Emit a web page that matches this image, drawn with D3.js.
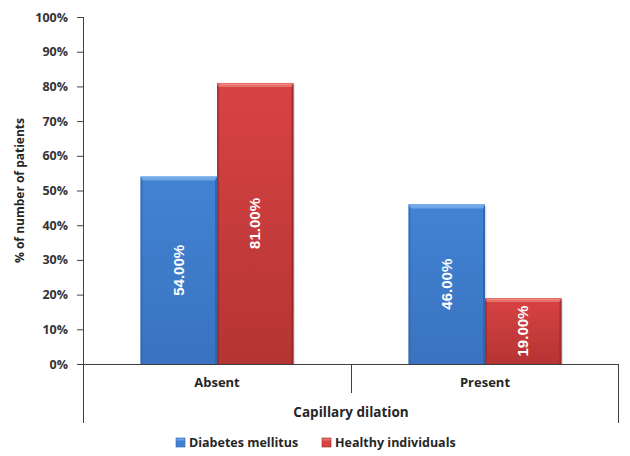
<!DOCTYPE html>
<html>
<head>
<meta charset="utf-8">
<script src="https://cdn.jsdelivr.net/npm/d3@7"></script>
<style>
  html, body { margin: 0; padding: 0; background: #ffffff; }
  svg { display: block; }
</style>
</head>
<body>
<svg id="chart" width="630" height="456"></svg>
<script>
// Share of patients with and without capillary dilation
const categories = ["Absent", "Present"];
const seriesNames = ["Diabetes mellitus", "Healthy individuals"];
const diabetesValues = [54, 46];
const healthyValues = [81, 19];
const yTicks = [0, 10, 20, 30, 40, 50, 60, 70, 80, 90, 100];
const axisTitle = "% of number of patients";
const groupTitle = "Capillary dilation";

const FONT = "'Open Sans', Lato, sans-serif";
const LABEL_FONT = "'Liberation Sans', Arial, sans-serif";

const palette = {
  "Diabetes mellitus": { top: "#6aa3e6", hi: "#8dbbf0", mid: "#4183d3", bottom: "#3a73c0", edge: "#2d5fa6" },
  "Healthy individuals": { top: "#e8706c", hi: "#f29590", mid: "#d84343", bottom: "#b53434", edge: "#932626" }
};

const rows = categories.map((c, i) => ({
  category: c,
  values: [
    { series: seriesNames[0], value: diabetesValues[i] },
    { series: seriesNames[1], value: healthyValues[i] }
  ]
}));

const svg = d3.select("#chart");
const margin = { left: 83, right: 11, top: 17, bottom: 92 };
const W = 630, H = 456;
const plotW = W - margin.left - margin.right;
const plotH = H - margin.top - margin.bottom;

const x0 = d3.scaleBand().domain(categories).range([0, plotW]).paddingInner(0).paddingOuter(0);
const groupWidth = 153;
const x1 = d3.scaleBand().domain(seriesNames).range([0, groupWidth]).padding(0);
const y = d3.scaleLinear().domain([0, 100]).range([plotH, 0]);

// vertical shading for the bar faces
const defs = svg.append("defs");
seriesNames.forEach((s, i) => {
  const p = palette[s];
  const g = defs.append("linearGradient").attr("id", "fill" + i)
    .attr("x1", 0).attr("y1", 0).attr("x2", 0).attr("y2", 1);
  g.append("stop").attr("offset", "0%").attr("stop-color", p.mid);
  g.append("stop").attr("offset", "100%").attr("stop-color", p.bottom);
});

const plot = svg.append("g").attr("transform", `translate(${margin.left},${margin.top})`);

// bars
const groups = plot.selectAll("g.group").data(rows).join("g")
  .attr("class", "group")
  .attr("transform", d => `translate(${x0(d.category) + (x0.bandwidth() - groupWidth) / 2},0)`);

const bars = groups.selectAll("g.bar").data(d => d.values).join("g").attr("class", "bar");

bars.each(function (d) {
  const i = seriesNames.indexOf(d.series);
  const p = palette[d.series];
  const bx = x1(d.series), bw = x1.bandwidth();
  const by = y(d.value), bh = y(0) - y(d.value);
  const bb = by + bh, br = bx + bw;
  const g = d3.select(this);
  const bev = 4, side = 2;
  // soft drop shadow on the right
  g.append("rect").attr("x", br).attr("y", by + 2).attr("width", 1.5).attr("height", bh - 2)
    .attr("fill", "#000").attr("opacity", 0.12);
  g.append("rect").attr("x", bx).attr("y", by).attr("width", bw).attr("height", bh)
    .attr("fill", `url(#fill${i})`);
  // side bevels
  g.append("path")
    .attr("d", `M${bx},${by} L${bx + side},${by + bev} L${bx + side},${bb} L${bx},${bb} Z`)
    .attr("fill", p.edge).attr("opacity", 0.55);
  g.append("path")
    .attr("d", `M${br},${by} L${br - side},${by + bev} L${br - side},${bb} L${br},${bb} Z`)
    .attr("fill", p.edge).attr("opacity", 0.75);
  // top bevel
  g.append("path")
    .attr("d", `M${bx},${by} L${br},${by} L${br - side},${by + bev} L${bx + side},${by + bev} Z`)
    .attr("fill", p.top);
  g.append("line").attr("x1", bx + 3).attr("x2", br - 3).attr("y1", by + 1.5).attr("y2", by + 1.5)
    .attr("stroke", p.hi).attr("stroke-width", 1).attr("opacity", 0.7);
  // value label
  g.append("text")
    .attr("transform", `translate(${bx + bw / 2 + 5},${by + bh / 2}) rotate(-90)`)
    .attr("text-anchor", "middle")
    .style("fill", "#ffffff")
    .style("font-family", LABEL_FONT)
    .style("font-weight", "bold")
    .style("font-size", "15px")
    .text(d.value.toFixed(2) + "%");
});

// y axis
const yAxis = d3.axisLeft(y).tickValues(yTicks).tickSize(6).tickFormat(d => d + "%");
const ya = plot.append("g").call(yAxis);
ya.select(".domain").remove();
ya.selectAll(".tick line").attr("stroke", "#404040");
ya.selectAll(".tick text").attr("x", -15)
  .style("fill", "#333333")
  .style("font-size", "12.5px").style("font-weight", "bold")
  .style("font-family", FONT);

// axis lines
const axisColor = "#404040";
plot.append("line").attr("x1", 0.5).attr("x2", 0.5).attr("y1", 0).attr("y2", plotH + 59)
  .attr("stroke", axisColor);
plot.append("line").attr("x1", 0).attr("x2", plotW).attr("y1", plotH + 0.5).attr("y2", plotH + 0.5)
  .attr("stroke", axisColor);
plot.append("line").attr("x1", plotW - 0.5).attr("x2", plotW - 0.5).attr("y1", plotH).attr("y2", plotH + 59)
  .attr("stroke", axisColor);
plot.append("line").attr("x1", x0(categories[1]) + 0.5).attr("x2", x0(categories[1]) + 0.5)
  .attr("y1", plotH).attr("y2", plotH + 29).attr("stroke", axisColor);

// category labels
plot.selectAll("text.cat").data(categories).join("text")
  .attr("class", "cat")
  .attr("x", d => x0(d) + x0.bandwidth() / 2)
  .attr("y", plotH + 23)
  .attr("text-anchor", "middle")
  .style("fill", "#262626")
  .style("font-family", FONT)
  .style("font-size", "13px").style("font-weight", "bold")
  .text(d => d);

plot.append("text")
  .attr("x", plotW / 2).attr("y", plotH + 53)
  .attr("text-anchor", "middle")
  .style("fill", "#262626")
  .style("font-family", FONT)
  .style("font-size", "13.5px").style("font-weight", "bold")
  .text(groupTitle);

// y axis title
svg.append("text")
  .attr("transform", `translate(24,${margin.top + plotH / 2}) rotate(-90)`)
  .attr("text-anchor", "middle")
  .style("fill", "#262626")
  .style("font-family", FONT)
  .style("font-size", "12px").style("font-weight", "bold")
  .text(axisTitle);

// legend
const legend = svg.append("g").attr("transform", "translate(176,446)");
const legendX = [0, 146];
seriesNames.forEach((s, i) => {
  const p = palette[s];
  const lg = legend.append("g").attr("transform", `translate(${legendX[i]},0)`);
  lg.append("rect").attr("x", 0).attr("y", -8).attr("width", 9).attr("height", 9)
    .attr("fill", p.mid).attr("stroke", p.edge).attr("stroke-width", 0.6);
  lg.append("rect").attr("x", 0.5).attr("y", -7.5).attr("width", 8).attr("height", 2)
    .attr("fill", p.top);
  lg.append("text").attr("x", 13).attr("y", 0.5)
    .style("fill", "#262626")
    .style("font-family", FONT)
    .style("font-size", "12.5px").style("font-weight", "bold")
    .text(s);
});
</script>
</body>
</html>
